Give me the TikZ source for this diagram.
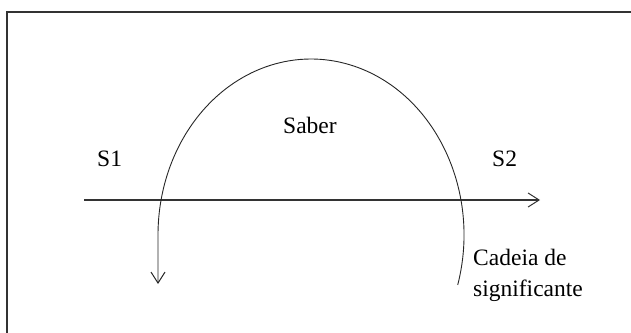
\documentclass[tikz,border=0pt]{standalone}
\usepackage{fontspec}
\setmainfont{Liberation Serif}
\usetikzlibrary{arrows.meta,calc}
\begin{document}
\begin{tikzpicture}[x=1pt,y=1pt,
  lbl/.style={anchor=base west,inner sep=0pt,font=\fontsize{23.5}{28}\selectfont},
  tipv/.style={-{Straight Barb[length=11pt,width=14pt,line width=1pt]}}]
\useasboundingbox (0,0) rectangle (631,332);
% frame (only top and left edges visible)
\draw[line width=1.2pt,black!80] (7,-5) -- (7,320) -- (636,320);
% coordinates
\coordinate (hs) at (84,132);
\coordinate (he) at (540,132);
\coordinate (ec) at (311,97);
\coordinate (cs) at ($(ec)+(-16.5:153 and 176)$);
\coordinate (ce) at (158,48);
% horizontal arrow
\draw[line width=1.2pt,black!80,tipv] (hs) -- (he);
% arc
\draw[line width=0.9pt,black!85,tipv] (cs) arc[start angle=-16.5,end angle=180,x radius=153,y radius=176] -- (ce);
% labels
\node[lbl] (s1) at (97,165) {S1};
\node[lbl] (s2) at (492,165) {S2};
\node[lbl] (saber) at (283,198) {Saber};
\node[lbl] (cad1) at (473,67) {Cadeia de};
\node[lbl] (cad2) at (473,36) {significante};
\end{tikzpicture}
\end{document}
